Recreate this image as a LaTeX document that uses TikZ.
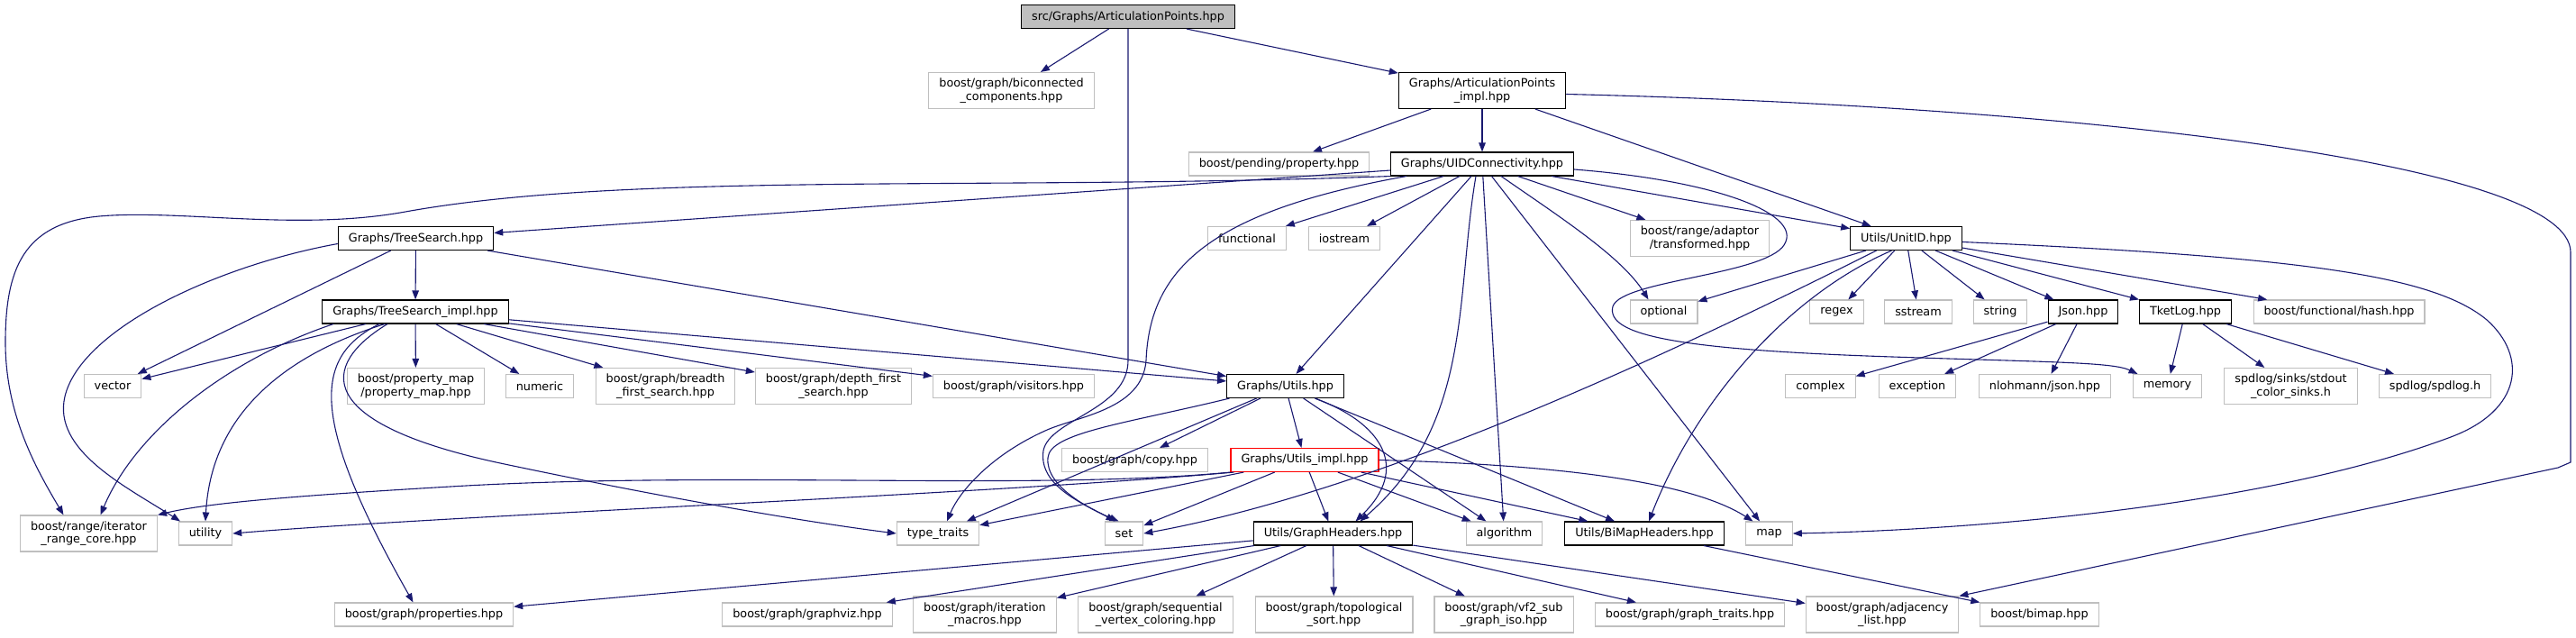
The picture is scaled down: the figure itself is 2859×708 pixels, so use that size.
\documentclass[tikz,border=0pt]{standalone}
\usepackage{fontspec}
\setmainfont{DejaVu Sans}
\usetikzlibrary{arrows.meta}
\definecolor{depblue}{HTML}{191970}
\definecolor{boxgray}{HTML}{BFBFBF}

\begin{document}
\begin{tikzpicture}[x=1pt, y=-1pt,
    sysfile/.style={rectangle, draw=boxgray, fill=white, line width=1.1pt, inner xsep=11.5pt, inner ysep=0pt, minimum height=26pt, align=center, font=\fontsize{12.8}{14.5}\selectfont},
    srcfile/.style={sysfile, draw=black},
    rootfile/.style={srcfile, fill=boxgray},
    cutfile/.style={sysfile, draw=red},
    twolines/.style={minimum height=40pt},
    dep/.style={draw=depblue, line width=1.1pt, -{Triangle[length=10pt, width=7.5pt]}}
]
\useasboundingbox (0,0) rectangle (2859,708);

% Files
\node[rootfile] (root) at (1252,18.5) {src/Graphs/ArticulationPoints.hpp};
\node[sysfile, twolines] (bicon) at (1122.5,100.5) {boost/graph/biconnected\\\_components.hpp};
\node[srcfile, twolines] (apimpl) at (1645,100.5) {Graphs/ArticulationPoints\\\_impl.hpp};
\node[sysfile] (pending) at (1419.5,182) {boost/pending/property.hpp};
\node[srcfile] (uidconn) at (1645,182) {Graphs/UIDConnectivity.hpp};

\node[srcfile] (treesearch) at (461.5,264.5) {Graphs/TreeSearch.hpp};
\node[sysfile] (functional) at (1384,264.5) {functional};
\node[sysfile] (iostream) at (1492,264.5) {iostream};
\node[sysfile, twolines] (transformed) at (1886.5,264.5) {boost/range/adaptor\\/transformed.hpp};
\node[srcfile] (unitid) at (2115.5,264.5) {Utils/UnitID.hpp};

\node[srcfile] (tsimpl) at (461,346) {Graphs/TreeSearch\_impl.hpp};
\node[sysfile] (optional) at (1846.5,346) {optional};
\node[sysfile] (regex) at (2038.5,346) {regex};
\node[sysfile] (sstream) at (2129,346) {sstream};
\node[sysfile] (string) at (2220,346) {string};
\node[srcfile] (json) at (2312,346) {Json.hpp};
\node[srcfile] (tketlog) at (2425.5,346) {TketLog.hpp};
\node[sysfile] (hash) at (2596,346) {boost/functional/hash.hpp};

\node[sysfile] (vector) at (125,428.5) {vector};
\node[sysfile, twolines] (propmap) at (461.5,428.5) {boost/property\_map\\/property\_map.hpp};
\node[sysfile] (numeric) at (599,428.5) {numeric};
\node[sysfile, twolines] (bfs) at (738.5,428.5) {boost/graph/breadth\\\_first\_search.hpp};
\node[sysfile, twolines] (dfs) at (925,428.5) {boost/graph/depth\_first\\\_search.hpp};
\node[sysfile] (visitors) at (1125,428.5) {boost/graph/visitors.hpp};
\node[srcfile] (utils) at (1426.5,428.5) {Graphs/Utils.hpp};
\node[sysfile] (complex) at (2020.5,428.5) {complex};
\node[sysfile] (exception) at (2128,428.5) {exception};
\node[sysfile] (nlohmann) at (2269.5,428.5) {nlohmann/json.hpp};
\node[sysfile] (memory) at (2405.5,428.5) {memory};
\node[sysfile, twolines] (stdout) at (2542.5,428.5) {spdlog/sinks/stdout\\\_color\_sinks.h};
\node[sysfile] (spdlog) at (2702.5,428.5) {spdlog/spdlog.h};

\node[sysfile] (copy) at (1259.5,510.5) {boost/graph/copy.hpp};
\node[cutfile] (utilsimpl) at (1448,510.5) {Graphs/Utils\_impl.hpp};

\node[sysfile, twolines] (iterrange) at (98.5,592) {boost/range/iterator\\\_range\_core.hpp};
\node[sysfile] (utility) at (228,592) {utility};
\node[sysfile] (typetraits) at (1041,592) {type\_traits};
\node[sysfile] (set) at (1247.5,592) {set};
\node[srcfile] (graphheaders) at (1479.5,592) {Utils/GraphHeaders.hpp};
\node[sysfile] (algorithm) at (1669.5,592) {algorithm};
\node[srcfile] (bimapheaders) at (1825,592) {Utils/BiMapHeaders.hpp};
\node[sysfile] (map) at (1963.5,592) {map};

\node[sysfile] (properties) at (470.5,682) {boost/graph/properties.hpp};
\node[sysfile] (graphviz) at (896,682) {boost/graph/graphviz.hpp};
\node[sysfile, twolines] (itermacros) at (1093,682) {boost/graph/iteration\\\_macros.hpp};
\node[sysfile, twolines] (sequential) at (1282.5,682) {boost/graph/sequential\\\_vertex\_coloring.hpp};
\node[sysfile, twolines] (topological) at (1480.5,682) {boost/graph/topological\\\_sort.hpp};
\node[sysfile, twolines] (vf2) at (1669,682) {boost/graph/vf2\_sub\\\_graph\_iso.hpp};
\node[sysfile] (graphtraits) at (1875.5,682) {boost/graph/graph\_traits.hpp};
\node[sysfile, twolines] (adjlist) at (2089,682) {boost/graph/adjacency\\\_list.hpp};
\node[sysfile] (bimap) at (2263.5,682) {boost/bimap.hpp};

% Includes of the root and the impl
\draw[dep] (root) -- (bicon);
\draw[dep] (root) -- (apimpl);
\draw[dep] (root.south) -- (1252,400) .. controls (1252,455) and (1165,465) .. (1158,500) .. controls (1152,540) and (1205,560) .. ([xshift=-10pt]set.north);
\draw[dep] (apimpl) -- (pending);
\draw[dep] (apimpl) -- (uidconn);
\draw[dep] (apimpl) -- (unitid);
\draw[dep] ([yshift=-4pt]apimpl.east) .. controls (2300,118) and (2853,180) .. (2853,280) -- (2853,513) -- (2839,519) -- (adjlist.north east);

% UIDConnectivity
\draw[dep] (uidconn) -- (treesearch);
\draw[dep] (uidconn) -- (functional);
\draw[dep] (uidconn) -- (iostream);
\draw[dep] (uidconn) -- (transformed);
\draw[dep] (uidconn) -- (unitid);
\draw[dep] (uidconn) -- (utils);
\draw[dep] (uidconn) -- (algorithm);
\draw[dep] (uidconn) -- (map);
\draw[dep] ([xshift=21pt]uidconn.south) .. controls (1730,240) and (1800,285) .. ([xshift=-17pt]optional.north);
\draw[dep] ([xshift=-7pt]uidconn.south) .. controls (1615,330) and (1635,470) .. ([xshift=30pt]graphheaders.north);
\draw[dep] ([xshift=-84pt]uidconn.south) .. controls (1340,235) and (1276,300) .. (1272,400) .. controls (1268,455) and (1195,462) .. (1160,478) .. controls (1100,505) and (1065,545) .. ([xshift=10pt]typetraits.north);
\draw[dep] (uidconn.south west) .. controls (1100,212) and (700,190) .. (450,235) .. controls (330,257) and (200,232) .. (110,240) .. controls (25,248) and (6,300) .. (6,380) .. controls (6,460) and (40,520) .. ([xshift=-28pt]iterrange.north);
\draw[dep] ([yshift=-6pt]uidconn.east) .. controls (1900,200) and (1995,235) .. (1982,268) .. controls (1970,305) and (1800,310) .. (1790,340) .. controls (1782,372) and (1860,388) .. (2100,396) .. controls (2280,402) and (2345,402) .. ([xshift=-33pt]memory.north);

% TreeSearch
\draw[dep] (treesearch) -- (tsimpl);
\draw[dep] (treesearch) -- (vector);
\draw[dep] (treesearch) -- (utils);
\draw[dep] ([yshift=-6pt]treesearch.west) .. controls (240,295) and (90,365) .. (72,440) .. controls (58,500) and (140,540) .. ([xshift=-28pt]utility.north);
\draw[dep] (tsimpl) -- (vector);
\draw[dep] (tsimpl) -- (propmap);
\draw[dep] (tsimpl) -- (numeric);
\draw[dep] (tsimpl) -- (bfs);
\draw[dep] (tsimpl) -- (dfs);
\draw[dep] (tsimpl) -- (visitors);
\draw[dep] (tsimpl) -- (utils);
\draw[dep] ([xshift=-91pt]tsimpl.south) .. controls (250,400) and (150,480) .. ([xshift=13pt]iterrange.north);
\draw[dep] ([xshift=-34pt]tsimpl.south) .. controls (330,390) and (235,450) .. (utility.north);
\draw[dep] ([xshift=-40pt]tsimpl.south) .. controls (350,395) and (340,460) .. ([xshift=-12pt]properties.north);
\draw[dep] ([xshift=-31pt]tsimpl.south) .. controls (355,405) and (345,470) .. (560,515) .. controls (750,555) and (900,580) .. (typetraits.west);

% Utils
\draw[dep] (utils) -- (copy);
\draw[dep] (utils) -- (utilsimpl);
\draw[dep] (utils) -- (typetraits);
\draw[dep] (utils) -- (algorithm);
\draw[dep] (utils) -- (bimapheaders);
\draw[dep] ([xshift=-62pt]utils.south) .. controls (1250,470) and (1165,480) .. (1163,508) .. controls (1160,540) and (1210,565) .. ([xshift=-6pt]set.north);
\draw[dep] ([xshift=33pt]utils.south) .. controls (1535,470) and (1565,520) .. ([xshift=25pt]graphheaders.north);
\draw[dep] (utilsimpl) -- (typetraits);
\draw[dep] (utilsimpl) -- (set);
\draw[dep] (utilsimpl) -- (graphheaders);
\draw[dep] (utilsimpl) -- (algorithm);
\draw[dep] (utilsimpl) -- (bimapheaders);
\draw[dep] (utilsimpl.south west) .. controls (1150,545) and (800,522) .. (500,540) .. controls (330,550) and (230,558) .. (iterrange.north east);
\draw[dep] ([xshift=4pt]utilsimpl.south west) .. controls (1100,548) and (500,572) .. (utility.east);
\draw[dep] (utilsimpl.east) .. controls (1700,515) and (1870,530) .. ([xshift=-18pt]map.north);

% UnitID, Json, TketLog
\draw[dep] (unitid) -- (optional);
\draw[dep] ([xshift=-33pt]unitid.south) .. controls (1780,430) and (1500,550) .. (set.east);
\draw[dep] ([xshift=-16pt]unitid.south) .. controls (1980,330) and (1880,450) .. ([xshift=5pt]bimapheaders.north);
\draw[dep] (unitid) -- (regex);
\draw[dep] (unitid) -- (sstream);
\draw[dep] (unitid) -- (string);
\draw[dep] (unitid) -- (json);
\draw[dep] (unitid) -- (tketlog);
\draw[dep] (unitid) -- (hash);
\draw[dep] ([yshift=-4pt]unitid.east) .. controls (2550,285) and (2700,305) .. (2760,355) .. controls (2805,395) and (2800,455) .. (2720,485) .. controls (2520,560) and (2200,588) .. (map.east);
\draw[dep] (json) -- (complex);
\draw[dep] (json) -- (exception);
\draw[dep] (json) -- (nlohmann);
\draw[dep] (tketlog) -- (memory);
\draw[dep] (tketlog) -- (stdout);
\draw[dep] (tketlog) -- (spdlog);

% GraphHeaders and BiMapHeaders
\draw[dep] (graphheaders) -- (properties);
\draw[dep] (graphheaders) -- (graphviz);
\draw[dep] (graphheaders) -- (itermacros);
\draw[dep] (graphheaders) -- (sequential);
\draw[dep] (graphheaders) -- (topological);
\draw[dep] (graphheaders) -- (vf2);
\draw[dep] (graphheaders) -- (graphtraits);
\draw[dep] (graphheaders) -- (adjlist);
\draw[dep] (bimapheaders) -- (bimap);

\end{tikzpicture}
\end{document}
